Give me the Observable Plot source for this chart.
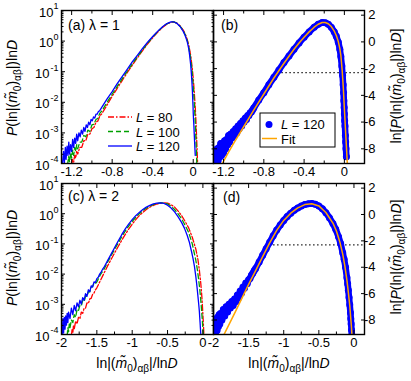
<!DOCTYPE html>
<html><head><meta charset="utf-8">
<script src="https://cdn.jsdelivr.net/npm/d3@7"></script>
<script src="https://cdn.jsdelivr.net/npm/@observablehq/plot@0.6"></script>
<style>
body{margin:0;background:#fff;}
#wrap{position:relative;width:411px;height:381px;overflow:hidden;background:#fff;}
#wrap svg{position:absolute;left:0;top:0;}
</style></head><body><div id="wrap"></div>
<script>
// ---------- data: [x, ln P] pairs ----------
// lambda = 1
const lam1_L80 = [[-1.2,-9.3],[-1.19,-8.9],[-1.18,-9.1],[-1.17,-8.6],[-1.16,-8.8],[-1.15,-8.3],[-1.14,-8.5],[-1.12,-8.0],[-1.10,-8.0],[-1.08,-7.5],[-1.06,-7.5],[-1.04,-7.0],[-1.02,-7.0],[-1.0,-6.6],[-0.98,-6.5],[-0.96,-6.1],[-0.94,-6.0],[-0.92,-5.6],[-0.9,-5.45],[-0.85,-4.8],[-0.8,-4.15],[-0.75,-3.55],[-0.7,-2.95],[-0.65,-2.35],[-0.6,-1.8],[-0.55,-1.25],[-0.5,-0.72],[-0.45,-0.2],[-0.4,0.25],[-0.35,0.68],[-0.3,1.05],[-0.26,1.28],[-0.22,1.42],[-0.19,1.43],[-0.16,1.35],[-0.13,1.15],[-0.1,0.85],[-0.08,0.55],[-0.06,0.15],[-0.04,-0.45],[-0.025,-1.1],[-0.01,-2.0],[0.0,-2.8],[0.01,-3.8],[0.02,-5.0],[0.028,-6.2],[0.034,-7.4],[0.04,-8.6],[0.045,-9.5]];
const lam1_L100 = [[-1.24,-9.3],[-1.23,-8.7],[-1.22,-9.1],[-1.21,-8.4],[-1.2,-8.8],[-1.19,-8.2],[-1.18,-8.6],[-1.17,-8.0],[-1.16,-8.3],[-1.15,-7.8],[-1.14,-8.1],[-1.12,-7.6],[-1.10,-7.6],[-1.08,-7.1],[-1.06,-7.2],[-1.04,-6.7],[-1.02,-6.8],[-1.0,-6.3],[-0.98,-6.25],[-0.96,-5.9],[-0.94,-5.8],[-0.92,-5.4],[-0.9,-5.25],[-0.85,-4.6],[-0.8,-4.0],[-0.75,-3.4],[-0.7,-2.82],[-0.65,-2.25],[-0.6,-1.7],[-0.55,-1.17],[-0.5,-0.65],[-0.45,-0.15],[-0.4,0.3],[-0.35,0.72],[-0.3,1.08],[-0.26,1.3],[-0.22,1.44],[-0.19,1.44],[-0.16,1.34],[-0.13,1.12],[-0.1,0.8],[-0.08,0.5],[-0.06,0.08],[-0.045,-0.4],[-0.03,-1.05],[-0.018,-1.8],[-0.008,-2.6],[0.002,-3.6],[0.01,-4.6],[0.018,-5.8],[0.024,-6.9],[0.03,-8.1],[0.036,-9.4]];
const lam1_L120 = [[-1.29,-9.2],[-1.28,-8.3],[-1.272,-9.2],[-1.262,-8.0],[-1.255,-8.9],[-1.245,-7.9],[-1.236,-8.6],[-1.228,-7.6],[-1.22,-8.5],[-1.21,-7.8],[-1.2,-8.3],[-1.19,-7.4],[-1.18,-8.0],[-1.17,-7.3],[-1.16,-7.7],[-1.15,-7.0],[-1.14,-7.5],[-1.128,-6.9],[-1.116,-7.2],[-1.104,-6.7],[-1.092,-7.0],[-1.08,-6.5],[-1.068,-6.8],[-1.056,-6.3],[-1.044,-6.5],[-1.032,-6.1],[-1.02,-6.3],[-1.008,-5.9],[-0.996,-6.0],[-0.984,-5.7],[-0.972,-5.8],[-0.96,-5.5],[-0.948,-5.5],[-0.936,-5.3],[-0.924,-5.25],[-0.912,-5.1],[-0.9,-4.95],[-0.85,-4.35],[-0.8,-3.8],[-0.75,-3.2],[-0.7,-2.65],[-0.65,-2.1],[-0.6,-1.55],[-0.55,-1.05],[-0.5,-0.55],[-0.45,-0.08],[-0.4,0.35],[-0.35,0.75],[-0.3,1.1],[-0.26,1.32],[-0.22,1.45],[-0.19,1.44],[-0.16,1.33],[-0.13,1.1],[-0.1,0.75],[-0.08,0.42],[-0.06,-0.02],[-0.045,-0.55],[-0.035,-1.1],[-0.025,-1.8],[-0.018,-2.5],[-0.012,-3.2],[-0.008,-3.8],[-0.005,-4.4],[-0.002,-4.9],[0.0,-5.4],[0.003,-5.9],[0.006,-6.3],[0.01,-7.0],[0.013,-7.5],[0.016,-8.0],[0.02,-8.6]];
const lam1_fit = [[-1.22,-9.2],[-1.15,-8.25],[-1.1,-7.6],[-1.0,-6.35],[-0.9,-5.1],[-0.8,-3.9],[-0.7,-2.7],[-0.6,-1.6],[-0.5,-0.55],[-0.45,-0.08],[-0.4,0.35],[-0.35,0.75],[-0.3,1.1],[-0.26,1.32],[-0.22,1.45],[-0.19,1.45],[-0.16,1.36],[-0.13,1.15],[-0.1,0.8],[-0.08,0.48],[-0.06,0.02],[-0.045,-0.5],[-0.035,-1.0],[-0.022,-2.1],[-0.01,-3.5],[0.0,-5.0],[0.01,-6.4],[0.02,-7.8],[0.03,-9.2]];
// lambda = 2
const lam2_L80 = [[-1.86,-9.3],[-1.85,-8.8],[-1.84,-9.1],[-1.83,-8.5],[-1.82,-8.8],[-1.8,-8.2],[-1.78,-8.4],[-1.76,-7.9],[-1.74,-8.0],[-1.72,-7.5],[-1.7,-7.6],[-1.68,-7.2],[-1.66,-7.2],[-1.64,-6.8],[-1.62,-6.85],[-1.6,-6.5],[-1.58,-6.45],[-1.56,-6.15],[-1.54,-6.05],[-1.52,-5.8],[-1.5,-5.65],[-1.45,-5.1],[-1.4,-4.55],[-1.35,-4.0],[-1.3,-3.5],[-1.25,-3.0],[-1.2,-2.52],[-1.15,-2.05],[-1.1,-1.6],[-1.05,-1.18],[-1.0,-0.8],[-0.95,-0.45],[-0.9,-0.15],[-0.85,0.1],[-0.8,0.32],[-0.75,0.5],[-0.7,0.64],[-0.65,0.74],[-0.6,0.8],[-0.55,0.83],[-0.5,0.8],[-0.45,0.68],[-0.4,0.5],[-0.35,0.2],[-0.3,-0.15],[-0.25,-0.6],[-0.2,-1.1],[-0.15,-1.8],[-0.1,-2.7],[-0.07,-3.5],[-0.05,-4.3],[-0.03,-5.3],[-0.015,-6.3],[-0.005,-7.2],[0.005,-8.2],[0.015,-9.3]];
const lam2_L100 = [[-1.92,-9.3],[-1.91,-8.7],[-1.9,-9.0],[-1.89,-8.4],[-1.88,-8.7],[-1.86,-8.1],[-1.84,-8.3],[-1.82,-7.7],[-1.8,-7.9],[-1.78,-7.3],[-1.76,-7.4],[-1.74,-7.0],[-1.72,-7.05],[-1.7,-6.6],[-1.68,-6.7],[-1.66,-6.3],[-1.64,-6.3],[-1.62,-5.95],[-1.6,-5.95],[-1.58,-5.6],[-1.56,-5.55],[-1.54,-5.3],[-1.52,-5.35],[-1.5,-5.2],[-1.45,-4.65],[-1.4,-4.25],[-1.35,-3.72],[-1.3,-3.22],[-1.25,-2.72],[-1.2,-2.25],[-1.15,-1.78],[-1.1,-1.34],[-1.05,-0.94],[-1.0,-0.59],[-0.95,-0.28],[-0.9,0.0],[-0.85,0.23],[-0.8,0.42],[-0.75,0.58],[-0.7,0.7],[-0.65,0.78],[-0.6,0.82],[-0.55,0.82],[-0.5,0.74],[-0.45,0.57],[-0.4,0.32],[-0.35,-0.02],[-0.3,-0.4],[-0.25,-0.9],[-0.2,-1.45],[-0.15,-2.3],[-0.1,-3.55],[-0.08,-4.2],[-0.06,-5.0],[-0.04,-6.0],[-0.025,-6.9],[-0.01,-8.0],[0.0,-8.8],[0.008,-9.4]];
const lam2_L120 = [[-2.0,-8.4],[-1.99,-9.3],[-1.98,-8.0],[-1.97,-9.1],[-1.96,-7.9],[-1.95,-8.8],[-1.94,-7.8],[-1.93,-8.5],[-1.92,-7.6],[-1.91,-8.3],[-1.9,-7.5],[-1.88,-8.0],[-1.86,-7.2],[-1.84,-7.7],[-1.82,-7.0],[-1.8,-7.4],[-1.78,-6.8],[-1.76,-7.1],[-1.74,-6.6],[-1.72,-6.9],[-1.7,-6.4],[-1.68,-6.6],[-1.66,-6.1],[-1.64,-6.3],[-1.62,-5.8],[-1.6,-5.95],[-1.58,-5.5],[-1.56,-5.6],[-1.54,-5.2],[-1.52,-5.25],[-1.5,-4.95],[-1.48,-4.85],[-1.46,-4.6],[-1.44,-4.45],[-1.42,-4.25],[-1.4,-4.1],[-1.35,-3.6],[-1.3,-3.1],[-1.25,-2.6],[-1.2,-2.1],[-1.15,-1.62],[-1.1,-1.18],[-1.05,-0.8],[-1.0,-0.45],[-0.95,-0.15],[-0.9,0.1],[-0.85,0.32],[-0.8,0.5],[-0.75,0.64],[-0.7,0.75],[-0.65,0.81],[-0.6,0.83],[-0.55,0.78],[-0.5,0.65],[-0.45,0.43],[-0.4,0.14],[-0.35,-0.24],[-0.3,-0.68],[-0.26,-1.12],[-0.22,-1.68],[-0.19,-2.2],[-0.16,-2.9],[-0.14,-3.4],[-0.12,-4.0],[-0.1,-4.8],[-0.09,-5.25],[-0.08,-5.75],[-0.07,-6.3],[-0.06,-6.85],[-0.05,-7.45],[-0.045,-7.9],[-0.04,-8.3],[-0.035,-8.75],[-0.03,-9.15]];
const lam2_fit = [[-1.85,-9.1],[-1.7,-7.5],[-1.6,-6.4],[-1.5,-5.3],[-1.4,-4.25],[-1.3,-3.2],[-1.2,-2.15],[-1.1,-1.2],[-1.0,-0.45],[-0.9,0.1],[-0.8,0.5],[-0.7,0.75],[-0.6,0.82],[-0.5,0.65],[-0.4,0.15],[-0.3,-0.65],[-0.25,-1.25],[-0.2,-2.1],[-0.16,-3.0],[-0.13,-3.9],[-0.1,-5.0],[-0.08,-5.9],[-0.06,-6.9],[-0.045,-7.9],[-0.035,-8.6],[-0.03,-9.1]];
// dotted reference level (ln P) and its x-extent per panel
const refLevel = -2.3;
const refExtentB = [-0.66, 0.2];
const refExtentD = [-1.2, 0.15];
// ticks
const xTicks1 = [-1.2, -0.8, -0.4, 0];
const xMinor1 = [-1.0, -0.6, -0.2];
const xTicks2 = [-2, -1.5, -1, -0.5, 0];
const xMinor2 = [-1.75, -1.25, -0.75, -0.25];
const logExponents = [-4, -3, -2, -1, 0, 1];
const logMinorMant = [2, 3, 4, 5, 6, 7, 8, 9];
const lnTicks = [2, 0, -2, -4, -6, -8];
const seriesNames = ["L = 80", "L = 100", "L = 120"];

// ---------- styling ----------
const FONT = "'Liberation Sans', Arial, Helvetica, sans-serif";
const RED = "#ff0000", GREEN = "#00a000", BLUE = "#0000ff", ORANGE = "#ffa500";
const W = 411, H = 381;
const colA = {left: 61, right: 213}, colB = {left: 213, right: 364};
const row1 = {top: 10, bottom: 163}, row2 = {top: 183, bottom: 334};
const fmt = d => String(d);
const blank = () => "";
const logMajor = logExponents.map(e => Math.pow(10, e));
const logMinor = logExponents.slice(0, -1).flatMap(e => logMinorMant.map(m => m * Math.pow(10, e)));
const X = d => d[0], LN = d => d[1], P = d => Math.exp(d[1]);

function panel(col, row, xDomain, yScale, marks) {
  return Plot.plot({
    width: W, height: H,
    marginLeft: col.left, marginRight: W - col.right,
    marginTop: row.top, marginBottom: H - row.bottom,
    x: {domain: xDomain, axis: null},
    y: {...yScale, axis: null},
    style: {background: "transparent", fontFamily: FONT, fontSize: "13px", color: "black"},
    marks
  });
}
function xAxes(major, minor) {
  return [
    Plot.axisX(major, {anchor: "bottom", tickSize: -4, tickPadding: 7, tickFormat: fmt, label: null, fontSize: 13}),
    Plot.axisX(minor, {anchor: "bottom", tickSize: -2.5, tickFormat: blank, label: null}),
    Plot.axisX(major, {anchor: "top", tickSize: -4, tickFormat: blank, label: null}),
    Plot.axisX(minor, {anchor: "top", tickSize: -2.5, tickFormat: blank, label: null})
  ];
}
function logAxes() {
  return [
    Plot.axisY(logMajor, {anchor: "left", tickSize: -4, tickFormat: blank, label: null}),
    Plot.axisY(logMinor, {anchor: "left", tickSize: -2.5, tickFormat: blank, label: null}),
    Plot.axisY(logMajor, {anchor: "right", tickSize: -4, tickFormat: blank, label: null}),
    Plot.axisY(logMinor, {anchor: "right", tickSize: -2.5, tickFormat: blank, label: null}),
    Plot.text(logExponents.filter(e => e >= 0), {y: e => Math.pow(10, e), text: () => "10", frameAnchor: "left", textAnchor: "end", dx: -8, dy: 2, fontSize: 13}),
    Plot.text(logExponents.filter(e => e < 0), {y: e => Math.pow(10, e), text: () => "10", frameAnchor: "left", textAnchor: "end", dx: -12, dy: 2, fontSize: 13}),
    Plot.text(logExponents, {y: e => Math.pow(10, e), text: e => String(e), frameAnchor: "left", textAnchor: "end", dx: -3, dy: -4, fontSize: 9})
  ];
}
function lnAxes() {
  return [
    Plot.axisY(lnTicks, {anchor: "right", tickSize: -4, tickPadding: 15, textAnchor: "end", tickFormat: fmt, label: null, fontSize: 13}),
    Plot.axisY(lnTicks, {anchor: "left", tickSize: -4, tickFormat: blank, label: null})
  ];
}
function curves(L80, L100, L120) {
  return [
    Plot.line(L80, {x: X, y: P, stroke: RED, strokeWidth: 1.3, strokeDasharray: "6,2,1.5,2", clip: true}),
    Plot.line(L100, {x: X, y: P, stroke: GREEN, strokeWidth: 1.3, strokeDasharray: "5,3", clip: true}),
    Plot.line(L120, {x: X, y: P, stroke: BLUE, strokeWidth: 1.3, clip: true})
  ];
}
function dotsFit(data, fit, ext) {
  return [
    Plot.ruleY([refLevel], {x1: ext[0], x2: ext[1], stroke: "black", strokeWidth: 1.3, strokeDasharray: "1.3,2.7"}),
    Plot.line(data, {x: X, y: LN, stroke: BLUE, strokeWidth: 6.5, strokeLinejoin: "round", strokeLinecap: "round", clip: true}),
    Plot.dot(data, {x: X, y: LN, r: 3.5, fill: BLUE, clip: true}),
    Plot.line(fit, {x: X, y: LN, stroke: ORANGE, strokeWidth: 1.5, clip: true})
  ];
}

const logY = {type: "log", domain: [1e-4, 10]};
const linY = {domain: [-9.1, 2.35]};
const wrap = document.getElementById("wrap");
wrap.append(panel(colA, row1, [-1.3, 0.2], logY, [...curves(lam1_L80, lam1_L100, lam1_L120), Plot.frame({strokeWidth: 1.4}), ...xAxes(xTicks1, xMinor1), ...logAxes()]));
wrap.append(panel(colB, row1, [-1.3, 0.2], linY, [...dotsFit(lam1_L120, lam1_fit, refExtentB), Plot.frame({strokeWidth: 1.4}), ...xAxes(xTicks1, xMinor1), ...lnAxes()]));
wrap.append(panel(colA, row2, [-2, 0.15], logY, [...curves(lam2_L80, lam2_L100, lam2_L120), Plot.frame({strokeWidth: 1.4}), ...xAxes(xTicks2, xMinor2), ...logAxes()]));
wrap.append(panel(colB, row2, [-2, 0.15], linY, [...dotsFit(lam2_L120, lam2_fit, refExtentD), Plot.frame({strokeWidth: 1.4}), ...xAxes(xTicks2, xMinor2), ...lnAxes()]));

// ---------- overlay: titles, panel labels, legends ----------
const ov = d3.select(wrap).append("svg").attr("width", W).attr("height", H)
  .style("font-family", FONT).style("pointer-events", "none");
function rich(sel, parts, size) {
  const t = sel.append("text").attr("font-size", size).attr("fill", "black");
  let shift = 0;
  parts.forEach(p => {
    const sp = t.append("tspan").text(p.t);
    const target = p.sub ? 4 : 0;
    if (target !== shift) { sp.attr("dy", target - shift); shift = target; }
    if (p.i) sp.attr("font-style", "italic");
    if (p.sub) sp.attr("font-size", size * 0.72);
  });
  return t;
}
const mPart = [{t: "ln|("}, {t: "m\u0303", i: true}, {t: "0", sub: true}, {t: ")"}, {t: "\u03b1\u03b2", sub: true}, {t: "|"}];
const leftTitle = [{t: "P", i: true}, {t: "("}, ...mPart, {t: ")ln"}, {t: "D", i: true}];
const rightTitle = [{t: "ln["}, {t: "P", i: true}, {t: "("}, ...mPart, {t: ")ln"}, {t: "D", i: true}, {t: "]"}];
const bottomTitle = [...mPart, {t: "/ln"}, {t: "D", i: true}];
[[88, 17], [258, 17]].forEach(([cy, bx]) => rich(ov.append("g").attr("transform", `translate(${bx},${cy}) rotate(-90)`), leftTitle, 14).attr("text-anchor", "middle"));
[[86, 401], [257, 401]].forEach(([cy, bx]) => rich(ov.append("g").attr("transform", `translate(${bx},${cy}) rotate(-90)`), rightTitle, 14).attr("text-anchor", "middle"));
[[137, 368], [289, 368]].forEach(([cx, by]) => rich(ov.append("g").attr("transform", `translate(${cx},${by})`), bottomTitle, 14).attr("text-anchor", "middle"));
// panel labels
[["(a) \u03bb = 1", 68, 30], ["(b)", 221, 30], ["(c) \u03bb = 2", 68, 201], ["(d)", 223, 202]].forEach(([s, x, y]) =>
  ov.append("text").attr("x", x).attr("y", y).attr("font-size", 14).text(s));
// legend (a)
const legA = [[RED, "6,2,1.5,2"], [GREEN, "5,3"], [BLUE, null]];
legA.forEach(([c, dash], i) => {
  const y = 117 + i * 14.5;
  const ln = ov.append("line").attr("x1", 108).attr("x2", 132).attr("y1", y).attr("y2", y).attr("stroke", c).attr("stroke-width", 1.3);
  if (dash) ln.attr("stroke-dasharray", dash);
  rich(ov.append("g").attr("transform", `translate(136,${y + 5})`), [{t: "L", i: true}, {t: seriesNames[i].slice(1)}], 13);
});
// legend (b)
ov.append("rect").attr("x", 260).attr("y", 113).attr("width", 75).attr("height", 34).attr("fill", "white").attr("stroke", "black").attr("stroke-width", 1);
ov.append("circle").attr("cx", 269).attr("cy", 124.5).attr("r", 3.5).attr("fill", BLUE);
rich(ov.append("g").attr("transform", "translate(281,129)"), [{t: "L", i: true}, {t: seriesNames[2].slice(1)}], 13);
ov.append("line").attr("x1", 262).attr("x2", 277).attr("y1", 138.5).attr("y2", 138.5).attr("stroke", ORANGE).attr("stroke-width", 1.5);
ov.append("text").attr("x", 281).attr("y", 143.5).attr("font-size", 13).text("Fit");
</script></body></html>
